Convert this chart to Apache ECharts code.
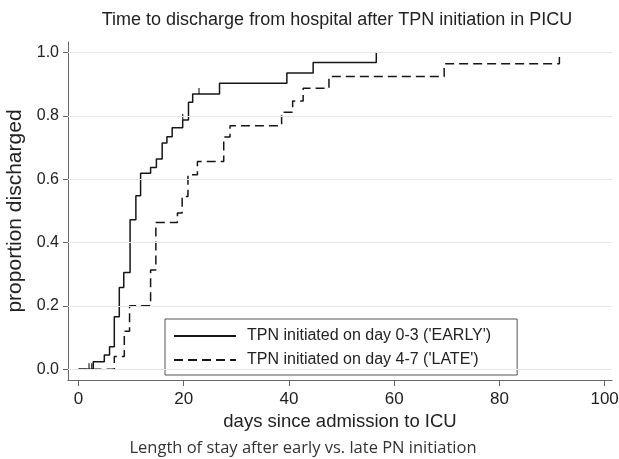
<!DOCTYPE html>
<html>
<head>
<meta charset="utf-8">
<script src="https://cdn.jsdelivr.net/npm/echarts@6/dist/echarts.min.js"></script>
<style>
  html, body { margin: 0; background: #fff; }
  #chart { width: 619px; height: 459px; }
</style>
</head>
<body>
<div id="chart"></div>
<script>
// step curves (day of step, proportion after step)
var earlyDays = [0, 2.8, 4.9, 5.9, 6.8, 7.75, 8.6, 9.8, 10.9, 11.8, 13.7, 14.8, 15.9, 16.8, 17.8, 19.8, 20.9, 21.7, 26.8, 39.6, 44.6, 56.6];
var earlyProp = [0, 0.024, 0.045, 0.071, 0.166, 0.258, 0.305, 0.472, 0.548, 0.619, 0.637, 0.664, 0.714, 0.734, 0.762, 0.787, 0.843, 0.869, 0.903, 0.935, 0.968, 1.0];
var lateDays = [0, 6.8, 8.7, 9.7, 13.7, 14.7, 18.8, 19.7, 20.8, 22.6, 27.6, 28.8, 38.6, 40.7, 42.7, 47.6, 69.5, 91.4];
var lateProp = [0, 0.04, 0.12, 0.2, 0.313, 0.463, 0.493, 0.545, 0.614, 0.656, 0.733, 0.769, 0.811, 0.847, 0.887, 0.924, 0.964, 1.0];
// censoring ticks on the early curve
var earlyCensorDays = [2.0, 2.5, 19.8, 22.9];
var earlyCensorProp = [0, 0, 0.787, 0.869];

var xTicks = [0, 20, 40, 60, 80, 100];
var yTicks = [0, 0.2, 0.4, 0.6, 0.8, 1.0];
var seriesNames = ["TPN initiated on day 0-3 ('EARLY')", "TPN initiated on day 4-7 ('LATE')"];
var noteDay = 20, noteProp = 0.3;
var noteText = 'logrank p=0.011';
var titleText = 'Time to discharge from hospital after TPN initiation in PICU';
var captionText = 'Length of stay after early vs. late PN initiation';

function pairs(xs, ys) {
  return xs.map(function (x, i) { return [x, ys[i]]; });
}

var font = 'Liberation Sans, Arial, sans-serif';
var ink = '#222';
var lineInk = '#161616';

var chart = echarts.init(document.getElementById('chart'));
chart.setOption({
  animation: false,
  backgroundColor: '#fff',
  textStyle: { fontFamily: font, color: ink },
  graphic: [
    {
      type: 'text', x: 337, y: 20,
      style: { text: titleText, font: '18px ' + font, fill: ink, align: 'center', verticalAlign: 'middle' }
    },
    {
      type: 'text', x: 303, y: 448,
      style: { text: captionText, font: '16.5px "Open Sans", sans-serif', fill: '#333', align: 'center', verticalAlign: 'middle' }
    }
  ],
  grid: { left: 68, right: 7, top: 42, bottom: 79, containLabel: false, outerBoundsMode: 'none' },
  legend: {
    data: seriesNames,
    orient: 'vertical',
    left: 165,
    top: 319,
    padding: [9, 26, 7, 8],
    itemGap: 8,
    itemWidth: 62,
    itemHeight: 16,
    borderColor: '#555',
    borderWidth: 1,
    borderRadius: 0,
    selectedMode: false,
    itemStyle: { opacity: 0, borderWidth: 0 },
    textStyle: { fontSize: 16, color: ink, fontFamily: font, padding: [0, 0, 0, 6] }
  },
  xAxis: {
    type: 'value',
    min: -2,
    max: 101.4,
    name: 'days since admission to ICU',
    nameLocation: 'middle',
    nameGap: 29,
    nameTextStyle: { fontSize: 18.5, color: ink, fontFamily: font },
    axisLine: { show: true, onZero: false, lineStyle: { color: '#666', width: 1 } },
    axisTick: { show: true, length: 6, customValues: xTicks, lineStyle: { color: '#666' } },
    axisLabel: { customValues: xTicks, fontSize: 17, margin: 11, color: ink, fontFamily: font },
    splitLine: { show: false }
  },
  yAxis: {
    type: 'value',
    min: -0.034,
    max: 1.033,
    name: 'proportion discharged',
    nameLocation: 'middle',
    nameGap: 33,
    nameTextStyle: { fontSize: 21, color: ink, fontFamily: font },
    axisLine: { show: true, onZero: false, lineStyle: { color: '#666', width: 1 } },
    axisTick: { show: true, length: 5, customValues: yTicks, lineStyle: { color: '#666' } },
    axisLabel: {
      customValues: yTicks, fontSize: 16, margin: 9, color: ink, fontFamily: font,
      formatter: function (v) { return v.toFixed(1); }
    },
    splitLine: { show: false }
  },
  series: [
    {
      // horizontal grid lines at the y tick values
      type: 'line',
      data: [],
      silent: true,
      z: 1,
      markLine: {
        silent: true,
        symbol: ['none', 'none'],
        label: { show: false },
        lineStyle: { color: '#e6e6e6', type: 'solid', width: 1 },
        data: yTicks.map(function (v) { return { yAxis: v }; })
      }
    },
    {
      name: seriesNames[0],
      type: 'line',
      step: 'end',
      symbol: 'none',
      z: 3,
      data: pairs(earlyDays, earlyProp),
      lineStyle: { color: lineInk, width: 1.5, type: 'solid' },
      itemStyle: { color: lineInk }
    },
    {
      name: seriesNames[1],
      type: 'line',
      step: 'end',
      symbol: 'none',
      z: 3,
      data: pairs(lateDays, lateProp),
      lineStyle: { color: lineInk, width: 1.5, type: [9, 5] },
      itemStyle: { color: lineInk }
    },
    {
      type: 'scatter',
      symbol: 'rect',
      symbolSize: [1.4, 6],
      symbolOffset: [0, -3],
      z: 4,
      silent: true,
      itemStyle: { color: lineInk },
      data: pairs(earlyCensorDays, earlyCensorProp)
    },
    {
      type: 'scatter',
      symbolSize: 1,
      silent: true,
      itemStyle: { opacity: 0 },
      label: {
        show: true, position: 'right', distance: 1,
        formatter: noteText, fontSize: 16, color: ink, fontFamily: font
      },
      data: [[noteDay, noteProp]]
    }
  ]
});
</script>
</body>
</html>
